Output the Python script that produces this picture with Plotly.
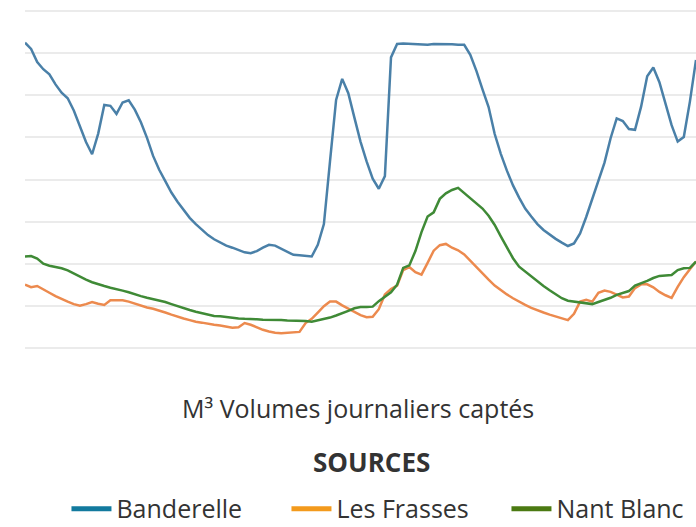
import plotly.graph_objects as go

# Jour index (daily series)
jours = list(range(111))

banderelle = [725, 710, 679, 662, 650, 626, 606, 593, 564, 527, 489, 460, 509, 577, 575, 556, 583, 588, 566, 536,
              499, 456, 423, 396, 369, 347, 327, 309, 294, 281, 268, 258, 250, 243, 238, 233, 227, 225, 230, 238,
              245, 243, 236, 228, 221, 220, 219, 217, 245, 294, 443, 589, 639, 605, 547, 490, 443, 402, 378, 408,
              690, 722, 723, 722, 722, 721, 720, 722, 722, 721, 721, 720, 720, 696, 658, 614, 572, 508, 461, 421,
              386, 357, 331, 312, 294, 280, 269, 259, 250, 242, 248, 272, 311, 354, 392, 440, 498, 545, 539, 520,
              518, 573, 645, 666, 631, 581, 529, 490, 501, 585, 684]

les_frasses = [150, 144, 147, 138, 131, 123, 116, 110, 104, 100, 104, 109, 105, 102, 113, 113, 113, 110, 105, 101,
               96, 93, 89, 84, 79, 74, 70, 66, 62, 60, 57, 55, 53, 51, 48, 49, 59, 55, 49, 43,
               39, 36, 35, 36, 38, 38, 59, 69, 84, 99, 110, 110, 101, 93, 85, 78, 73, 74, 92, 127,
               140, 148, 185, 192, 180, 174, 202, 231, 244, 247, 238, 232, 222, 207, 190, 176, 162, 148, 137, 127,
               118, 109, 102, 95, 89, 84, 79, 75, 70, 66, 81, 110, 114, 110, 131, 136, 133, 127, 120, 122,
               142, 151, 151, 144, 133, 125, 119, 145, 168, 187, 205]

nant_blanc = [217, 218, 212, 200, 195, 192, 189, 184, 176, 168, 162, 156, 151, 147, 143, 140, 136, 132, 127, 123,
              119, 116, 113, 109, 104, 99, 94, 90, 86, 83, 80, 76, 75, 73, 71, 70, 69, 69, 68, 67,
              67, 66, 66, 65, 65, 65, 64, 62, 65, 69, 72, 77, 82, 88, 94, 97, 97, 98, 111, 122,
              132, 150, 190, 196, 230, 275, 312, 322, 354, 367, 375, 380, 368, 357, 344, 331, 314, 292, 265, 240,
              213, 193, 181, 170, 159, 147, 137, 127, 118, 112, 110, 108, 105, 104, 109, 114, 119, 126, 130, 135,
              148, 153, 159, 166, 171, 172, 173, 185, 189, 190, 205]

series_names = ["Banderelle", "Les Frasses", "Nant Blanc"]
line_colors = ["#4a80a8", "#ec8a4e", "#3f8a36"]
legend_colors = ["#127a9e", "#f39a1c", "#4b7a12"]
series_values = [banderelle, les_frasses, nant_blanc]

FONT = "Open Sans"

fig = go.Figure()
for name, vals, col in zip(series_names, series_values, line_colors):
    fig.add_trace(go.Scatter(x=jours, y=vals, mode="lines", name=name,
                             line=dict(color=col, width=2.5), showlegend=False))
for name, col in zip(series_names, legend_colors):
    fig.add_trace(go.Scatter(x=[None], y=[None], mode="lines", name=name,
                             line=dict(color=col, width=5), showlegend=True))

fig.update_layout(
    width=696, height=527,
    margin=dict(l=25, r=0, t=9, b=177),
    paper_bgcolor="white", plot_bgcolor="white",
    font=dict(family=FONT, color="#333333"),
    showlegend=True,
    legend=dict(orientation="h", x=0.0955, xanchor="left", xref="container",
                y=0.0778, yanchor="top", yref="container",
                font=dict(size=25, color="#333333"), itemwidth=40,
                entrywidth=165, entrywidthmode="pixels"),
    xaxis=dict(range=[0, 110], showgrid=False, zeroline=False, showticklabels=False,
               showline=False, ticks=""),
    yaxis=dict(range=[-5, 805], dtick=100, showgrid=True, gridcolor="#ebebeb", gridwidth=1.5,
               zeroline=False, showticklabels=False, showline=False, ticks=""),
    annotations=[
        dict(text="M³ Volumes journaliers captés", x=0.496, y=-0.170, xref="paper", yref="paper",
             xanchor="center", yanchor="middle", showarrow=False,
             font=dict(size=25, color="#333333", family=FONT)),
        dict(text="<b>SOURCES</b>", x=0.516, y=-0.328, xref="paper", yref="paper",
             xanchor="center", yanchor="middle", showarrow=False,
             font=dict(size=26, color="#333333", family=FONT)),
    ],
)

fig.write_html("out.html", config={"displayModeBar": False},
               post_script="document.body.style.margin='0';document.body.style.overflow='hidden';")
